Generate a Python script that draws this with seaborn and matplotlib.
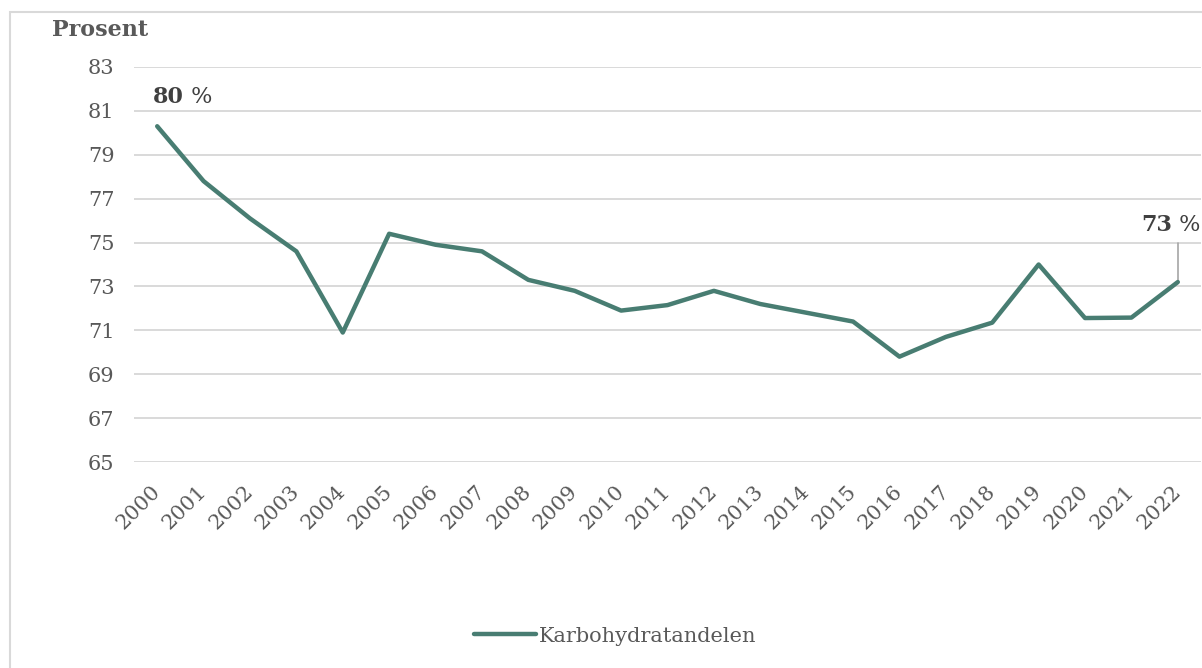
import matplotlib
matplotlib.use("Agg")
import matplotlib.pyplot as plt
from matplotlib.patches import Rectangle
import seaborn as sns
import pandas as pd

years = list(range(2000, 2023))
karbohydratandel = [80.3, 77.8, 76.1, 74.6, 70.9, 75.4, 74.9, 74.6, 73.3, 72.8,
                    71.9, 72.15, 72.8, 72.2, 71.8, 71.4, 69.8, 70.7, 71.35, 74.0,
                    71.56, 71.58, 73.2]
y_ticks = [65, 67, 69, 71, 73, 75, 77, 79, 81, 83]
series_name = "Karbohydratandelen"

LINE = "#487d72"
TEXT = "#595959"
GRID = "#d9d9d9"

sns.set_theme(style="white")
plt.rcParams["font.family"] = ["DejaVu Serif"]

fig = plt.figure(figsize=(12.02, 6.68), dpi=100)
fig.patches.append(Rectangle((10 / 1202, -0.1), 1.2, (1 - 12 / 668) + 0.1,
                             transform=fig.transFigure, fill=False,
                             edgecolor="#d9d9d9", linewidth=1.5))

ax = fig.add_axes([134 / 1202, 1 - 462 / 668, (1201 - 134) / 1202, (462 - 67) / 668])
df = pd.DataFrame({"År": years, "Prosent": karbohydratandel})
sns.lineplot(data=df, x="År", y="Prosent", ax=ax, color=LINE, linewidth=3.2,
             label=series_name, legend=False)

ax.set_xlim(years[0] - 0.5, years[-1] + 0.5)
ax.set_ylim(y_ticks[0], y_ticks[-1])
ax.set_yticks(y_ticks)
ax.set_xticks(years)
ax.set_xticklabels([str(y) for y in years], rotation=45, ha="right", va="center",
                   rotation_mode="anchor")
ax.tick_params(axis="both", length=0, labelsize=15, labelcolor=TEXT)
ax.tick_params(axis="y", pad=14)
ax.tick_params(axis="x", pad=19)
ax.yaxis.grid(True, color=GRID, linewidth=1.4)
ax.set_axisbelow(True)
for s in ax.spines.values():
    s.set_visible(False)
ax.set_xlabel("")
ax.set_ylabel("")

fig.text(52 / 1202, 1 - 30 / 668, "Prosent", fontsize=16, fontweight="bold",
         color=TEXT, va="center", ha="left")

# value labels for first and last year: bold number followed by a plain "%"
fig.canvas.draw()
renderer = fig.canvas.get_renderer()

def value_label(year, dx_px, dy_px):
    v = karbohydratandel[years.index(year)]
    px, py = ax.transData.transform((year, v))
    t1 = fig.text((px + dx_px) / 1202, (py + dy_px) / 668, f"{round(v)}",
                  fontsize=16, fontweight="bold", color="#404040",
                  ha="left", va="center")
    bb = t1.get_window_extent(renderer)
    fig.text(bb.x1 / 1202, (py + dy_px) / 668, " %", fontsize=16,
             color="#404040", ha="left", va="center")

value_label(years[0], -4, 29)
value_label(years[-1], -37, 57)
ax.plot([years[-1], years[-1]], [karbohydratandel[-1], karbohydratandel[-1] + 1.8],
        color="#a6a6a6", linewidth=1.2, zorder=1)

handle = plt.Line2D([], [], color=LINE, linewidth=3.2, solid_capstyle="round")
fig.legend([handle], [series_name], loc="center", bbox_to_anchor=(615 / 1202, 1 - 636 / 668),
           frameon=False, fontsize=15, labelcolor=TEXT, handlelength=3.0,
           handletextpad=0.1)

fig.savefig("out.png", dpi=100)
